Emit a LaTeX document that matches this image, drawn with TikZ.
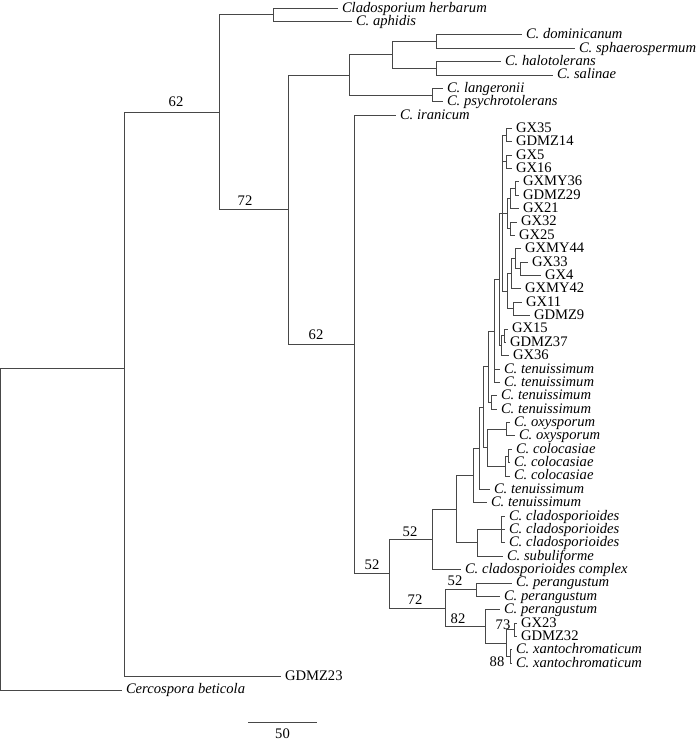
\documentclass[tikz,border=0pt]{standalone}
\usepackage{fontspec}
\setmainfont{Liberation Serif}
\begin{document}
\begin{tikzpicture}[x=1pt,y=-1pt,
  br/.style={draw=black!72, line width=0.8pt},
  lf/.style={anchor=west, inner sep=0pt, outer sep=4pt, text height=8pt, text depth=0pt, font=\fontsize{14.6}{15}\selectfont},
  lfi/.style={lf, font=\fontsize{14.6}{15}\selectfont\itshape},
  bs/.style={inner sep=0pt, font=\fontsize{14.6}{15}\selectfont}]
\useasboundingbox (0,0) rectangle (700,742);
% leaves
\node[lfi] (L0) at (338,8.0) {Cladosporium herbarum};
\node[lfi] (L1) at (352,21.4) {C. aphidis};
\node[lfi] (L2) at (522,34.7) {C. dominicanum};
\node[lfi] (L3) at (575,48.1) {C. sphaerospermum};
\node[lfi] (L4) at (501,61.5) {C. halotolerans};
\node[lfi] (L5) at (553,74.9) {C. salinae};
\node[lfi] (L6) at (443,88.2) {C. langeronii};
\node[lfi] (L7) at (443,101.6) {C. psychrotolerans};
\node[lfi] (L8) at (396,115.0) {C. iranicum};
\node[lf] (L9) at (512,128.3) {GX35};
\node[lf] (L10) at (512,141.7) {GDMZ14};
\node[lf] (L11) at (512,155.1) {GX5};
\node[lf] (L12) at (512,168.4) {GX16};
\node[lf] (L13) at (519,181.8) {GXMY36};
\node[lf] (L14) at (519,195.2) {GDMZ29};
\node[lf] (L15) at (519,208.6) {GX21};
\node[lf] (L16) at (517,221.9) {GX32};
\node[lf] (L17) at (515,235.3) {GX25};
\node[lf] (L18) at (521,248.7) {GXMY44};
\node[lf] (L19) at (528,262.0) {GX33};
\node[lf] (L20) at (541,275.4) {GX4};
\node[lf] (L21) at (521,288.8) {GXMY42};
\node[lf] (L22) at (522,302.1) {GX11};
\node[lf] (L23) at (530,315.5) {GDMZ9};
\node[lf] (L24) at (508,328.9) {GX15};
\node[lf] (L25) at (506,342.3) {GDMZ37};
\node[lf] (L26) at (509,355.6) {GX36};
\node[lfi] (L27) at (500,369.0) {C. tenuissimum};
\node[lfi] (L28) at (500,382.4) {C. tenuissimum};
\node[lfi] (L29) at (497,395.7) {C. tenuissimum};
\node[lfi] (L30) at (497,409.1) {C. tenuissimum};
\node[lfi] (L31) at (510,422.5) {C. oxysporum};
\node[lfi] (L32) at (515,435.8) {C. oxysporum};
\node[lfi] (L33) at (512,449.2) {C. colocasiae};
\node[lfi] (L34) at (510,462.6) {C. colocasiae};
\node[lfi] (L35) at (510,475.9) {C. colocasiae};
\node[lfi] (L36) at (490,489.3) {C. tenuissimum};
\node[lfi] (L37) at (487,502.7) {C. tenuissimum};
\node[lfi] (L38) at (505,516.1) {C. cladosporioides};
\node[lfi] (L39) at (505,529.4) {C. cladosporioides};
\node[lfi] (L40) at (505,542.8) {C. cladosporioides};
\node[lfi] (L41) at (503,556.2) {C. subuliforme};
\node[lfi] (L42) at (461,569.5) {C. cladosporioides complex};
\node[lfi] (L43) at (512,582.9) {C. perangustum};
\node[lfi] (L44) at (500,596.3) {C. perangustum};
\node[lfi] (L45) at (500,609.6) {C. perangustum};
\node[lf] (L46) at (517,623.0) {GX23};
\node[lf] (L47) at (517,636.4) {GDMZ32};
\node[lfi] (L48) at (512,649.8) {C. xantochromaticum};
\node[lfi] (L49) at (512,663.1) {C. xantochromaticum};
\node[lf] (L50) at (281,676.5) {GDMZ23};
\node[lfi] (L51) at (122,689.9) {Cercospora beticola};
% internal nodes
\coordinate (root) at (0.8,368);
\coordinate (n124) at (124,368);
\coordinate (n219) at (219,112.2);
\coordinate (ncla) at (273,14.7);
\coordinate (n288) at (288,209.6);
\coordinate (n349) at (349,74.9);
\coordinate (n392) at (392,54.8);
\coordinate (n436a) at (436,41.4);
\coordinate (n436b) at (436,68.2);
\coordinate (n432b) at (432,94.9);
\coordinate (n354) at (354,344.3);
\coordinate (n389) at (389,573.7);
\coordinate (n432) at (432,539.3);
\coordinate (n456) at (456,509.1);
\coordinate (n477) at (477,542.8);
\coordinate (n501) at (501,529.4);
\coordinate (n473) at (473,475.5);
\coordinate (n479) at (479,448.2);
\coordinate (n484) at (483,407.1);
\coordinate (noc) at (487,447.5);
\coordinate (noxy) at (506,429.2);
\coordinate (ncolo) at (505,465.9);
\coordinate (ncolp) at (508,455.9);
\coordinate (nU) at (488,366.7);
\coordinate (nten) at (491,402.4);
\coordinate (nV) at (494,330.9);
\coordinate (nW) at (499,279.4);
\coordinate (g2) at (501,345.6);
\coordinate (g1) at (504,335.6);
\coordinate (nX) at (502.5,213.1);
\coordinate (c1) at (506,135.0);
\coordinate (c2) at (506,161.8);
\coordinate (b4) at (507,213.6);
\coordinate (b2) at (510,198.5);
\coordinate (b1) at (515,188.5);
\coordinate (b3) at (510,228.6);
\coordinate (a5) at (507,291.3);
\coordinate (a3) at (511,273.7);
\coordinate (a2) at (515,258.7);
\coordinate (a1) at (520,268.7);
\coordinate (a4) at (513,308.8);
\coordinate (n445) at (445,608.0);
\coordinate (n52c) at (476,589.6);
\coordinate (n82) at (485,626.4);
\coordinate (na) at (506,643.1);
\coordinate (ngx) at (514,629.7);
\coordinate (nxan) at (510,656.5);
% branches
\draw[br] (root) |- (n124) (root) |- (L51.west);
\draw[br] (n124) |- (n219) (n124) |- (L50.west);
\draw[br] (n219) |- (ncla) (n219) |- (n288);
\draw[br] (ncla) |- (L0.west) (ncla) |- (L1.west);
\draw[br] (n288) |- (n349) (n288) |- (n354);
\draw[br] (n349) |- (n392) (n349) |- (n432b);
\draw[br] (n392) |- (n436a) (n392) |- (n436b);
\draw[br] (n436a) |- (L2.west) (n436a) |- (L3.west);
\draw[br] (n436b) |- (L4.west) (n436b) |- (L5.west);
\draw[br] (n432b) |- (L6.west) (n432b) |- (L7.west);
\draw[br] (n354) |- (L8.west) (n354) |- (n389);
\draw[br] (n389) |- (n432) (n389) |- (n445);
\draw[br] (n432) |- (n456) (n432) |- (L42.west);
\draw[br] (n456) |- (n473) (n456) |- (n477);
\draw[br] (n477) |- (n501) (n477) |- (L41.west);
\draw[br] (n501) |- (L38.west) (n501) |- (L39.west) (n501) |- (L40.west);
\draw[br] (n473) |- (n479) (n473) |- (L37.west);
\draw[br] (n479) |- (n484) (n479) |- (L36.west);
\draw[br] (n484) |- (nU) (n484) |- (noc);
\draw[br] (noc) |- (noxy) (noc) |- (ncolo);
\draw[br] (noxy) |- (L31.west) (noxy) |- (L32.west);
\draw[br] (ncolo) |- (ncolp) (ncolo) |- (L35.west);
\draw[br] (ncolp) |- (L33.west) (ncolp) |- (L34.west);
\draw[br] (nU) |- (nV) (nU) |- (nten);
\draw[br] (nten) |- (L29.west) (nten) |- (L30.west);
\draw[br] (nV) |- (nW) (nV) |- (L27.west) (nV) |- (L28.west);
\draw[br] (nW) |- (nX) (nW) |- (g2);
\draw[br] (g2) |- (g1) (g2) |- (L26.west);
\draw[br] (g1) |- (L24.west) (g1) |- (L25.west);
\draw[br] (nX) |- (c1) (nX) |- (c2) (nX) |- (b4) (nX) |- (a5);
\draw[br] (c1) |- (L9.west) (c1) |- (L10.west);
\draw[br] (c2) |- (L11.west) (c2) |- (L12.west);
\draw[br] (b4) |- (b2) (b4) |- (b3);
\draw[br] (b2) |- (b1) (b2) |- (L15.west);
\draw[br] (b1) |- (L13.west) (b1) |- (L14.west);
\draw[br] (b3) |- (L16.west) (b3) |- (L17.west);
\draw[br] (a5) |- (a3) (a5) |- (a4);
\draw[br] (a3) |- (a2) (a3) |- (L21.west);
\draw[br] (a2) |- (L18.west) (a2) |- (a1);
\draw[br] (a1) |- (L19.west) (a1) |- (L20.west);
\draw[br] (a4) |- (L22.west) (a4) |- (L23.west);
\draw[br] (n445) |- (n52c) (n445) |- (n82);
\draw[br] (n52c) |- (L43.west) (n52c) |- (L44.west);
\draw[br] (n82) |- (L45.west) (n82) |- (na);
\draw[br] (na) |- (ngx) (na) |- (nxan);
\draw[br] (ngx) |- (L46.west) (ngx) |- (L47.west);
\draw[br] (nxan) |- (L48.west) (nxan) |- (L49.west);
% bootstrap values
\node[bs] (bs1) at (176,102) {62};
\node[bs] (bs2) at (245,201) {72};
\node[bs] (bs3) at (316,335) {62};
\node[bs] (bs4) at (372,565) {52};
\node[bs] (bs5) at (410,532) {52};
\node[bs] (bs6) at (455,581) {52};
\node[bs] (bs7) at (415,600) {72};
\node[bs] (bs8) at (458,619) {82};
\node[bs] (bs9) at (503,625) {73};
\node[bs] (bs10) at (497,662) {88};
% scale bar
\coordinate (sb1) at (248,722);
\coordinate (sb2) at (317,722);
\draw[br] (sb1) -- (sb2);
\node[bs] (sbl) at (282.5,734) {50};
\end{tikzpicture}
\end{document}
